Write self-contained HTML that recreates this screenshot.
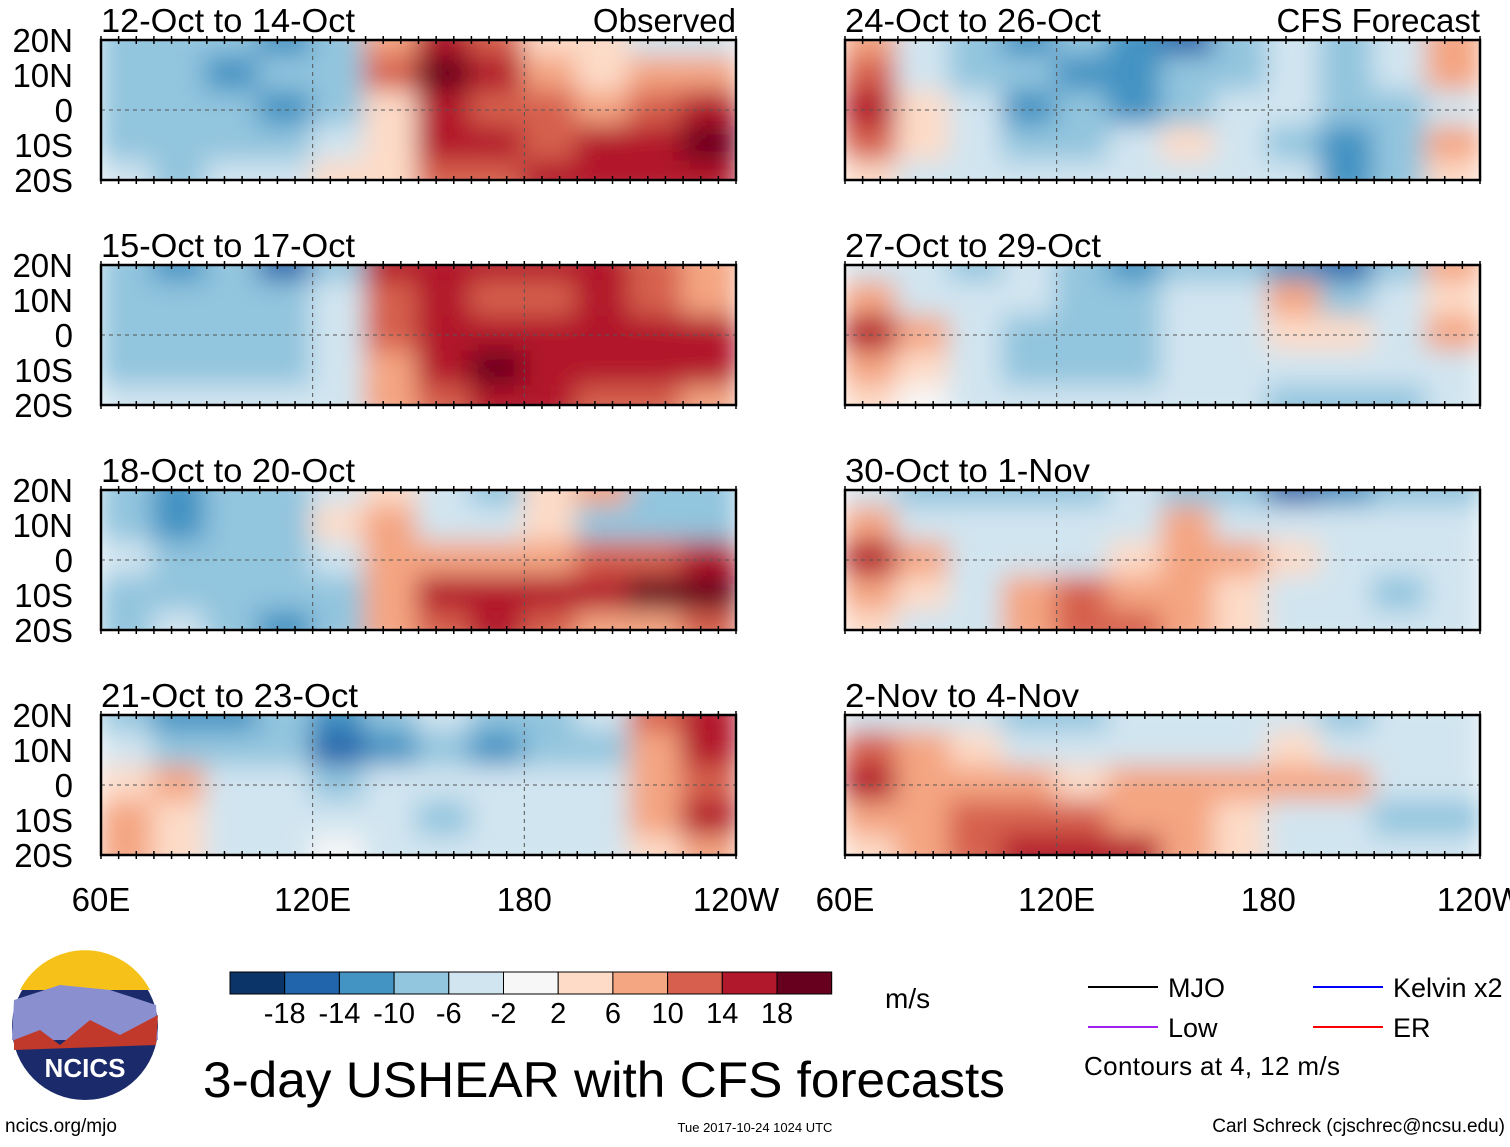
<!DOCTYPE html>
<html><head><meta charset="utf-8"><style>
body{margin:0;background:#fff;width:1510px;height:1142px;overflow:hidden;font-family:"Liberation Sans",sans-serif}
svg text{font-family:"Liberation Sans",sans-serif}
</style></head><body>
<svg id="fig" width="1510" height="1142" xmlns="http://www.w3.org/2000/svg">
<defs><filter id="bl" x="-10%" y="-30%" width="120%" height="160%"><feGaussianBlur stdDeviation="13"/></filter></defs>
</svg>
<script>
const lats=["20N","10N","0","10S","20S"];
const lonLabels=["60E","120E","180","120W"];
const titles=["12-Oct to 14-Oct","15-Oct to 17-Oct","18-Oct to 20-Oct","21-Oct to 23-Oct","24-Oct to 26-Oct","27-Oct to 29-Oct","30-Oct to 1-Nov","2-Nov to 4-Nov"];
const levels=[-18,-14,-10,-6,-2,2,6,10,14,18];
const colors=["#0b3468","#2166ac","#4393c3","#92c5de","#d1e5f0","#f7f7f7","#fddbc7","#f4a582","#d6604d","#b2182b","#67001f"];
const p1=[[-8,-7,-9,-11,-9,8,16,12,4,2,-4,-4],[-7,-9,-11,-9,-7,12,19,16,8,4,6,8],[-9,-7,-9,-11,-7,4,16,12,10,8,12,17],[-7,-9,-7,-8,-4,4,17,16,12,15,15,19],[-4,-7,-4,-4,2,2,12,12,14,15,15,15]];
const p2=[[-8,-12,-10,-15,-8,15,17,15,14,15,12,8],[-8,-10,-10,-10,-6,12,16,12,12,14,12,8],[-7,-8,-8,-8,-4,10,16,16,14,15,17,17],[-8,-7,-8,-10,-6,8,17,19,17,17,15,15],[-4,-6,-6,-4,-4,6,12,14,14,12,10,8]];
const p3=[[-8,-12,-10,-8,-6,3,-6,-8,3,6,-8,-10],[-8,-14,-10,-8,3,6,-4,-6,3,-8,-10,-8],[-6,-10,-8,-8,-4,6,8,8,6,10,12,16],[-10,-8,-8,-10,-8,8,14,16,17,17,19,19],[-8,-6,-10,-12,-8,8,12,15,10,6,8,12]];
const p4=[[-8,-14,-12,-10,-14,-8,-6,-10,-8,-6,10,16],[-6,-10,-8,-10,-16,-12,-10,-12,-10,-8,8,16],[3,6,-4,-6,-8,-4,-6,-6,-4,-6,6,12],[6,3,-4,-6,-4,-6,-8,-6,-4,-6,6,14],[6,3,-3,-4,0,-4,-6,-4,-4,-6,3,8]];
const p5=[[6,-6,-8,-12,-10,-12,-16,-8,-6,-8,-6,8],[12,-4,-8,-10,-12,-14,-10,-8,-6,-8,-6,6],[16,3,-6,-12,-10,-14,-8,-4,-6,-8,-10,-4],[12,3,-6,-8,-10,-6,3,-4,-8,-14,-10,6],[3,-4,-6,-6,-6,-4,-4,-4,-6,-12,-10,3]];
const p6=[[-4,-6,-8,-6,-10,-14,-10,-8,-12,-17,-10,6],[8,-4,-4,-6,-8,-8,-6,-4,6,-8,-4,3],[17,6,-4,-8,-10,-8,-6,-4,3,3,-4,6],[8,3,-4,-8,-8,-8,-6,-4,-4,-6,-6,-4],[3,0,-4,-6,-6,-4,-4,-4,-8,-8,-8,-6]];
const p7=[[-6,-8,-8,-10,-8,-6,-8,-8,-16,-12,-8,-10],[8,-4,-6,-6,-6,-4,6,-4,-4,-6,-6,-4],[17,6,-4,-6,-6,3,6,6,3,-4,-6,-4],[8,3,-4,6,10,8,6,3,-4,-6,-8,-6],[3,-4,-4,8,12,10,6,3,-4,-4,-6,-4]];
const p8=[[-6,-6,-4,-8,-8,-6,-6,-6,-6,-8,-6,-4],[10,6,3,-4,-6,-4,-4,-4,3,-6,-4,-4],[14,8,6,6,3,6,6,8,8,6,-4,-6],[8,8,12,12,10,8,6,3,-4,-6,-8,-10],[3,6,10,16,14,16,8,3,-4,-4,-6,-6]];
const panels=[p1,p2,p3,p4,p5,p6,p7,p8];
const NS="http://www.w3.org/2000/svg";
const svg=document.getElementById('fig');
function mk(t,a,parent){const e=document.createElementNS(NS,t);for(const k in a)e.setAttribute(k,a[k]);(parent||svg).appendChild(e);return e;}
function col(v){let i=0;while(i<levels.length&&v>=levels[i])i++;return colors[i];}
const W=635,H=140;
panels.forEach((d,pi)=>{
  const x0=pi<4?101:845, y0=40+(pi%4)*225;
  const g=mk('g',{});
  
  
  const cp=mk('clipPath',{id:'c'+pi},g);mk('rect',{x:x0,y:y0,width:W,height:H},cp);
  const hg=mk('g',{'clip-path':'url(#c'+pi+')'},g);
  const fg=mk('g',{filter:'url(#bl)'},hg);
  const nr=d.length,nc=d[0].length,cw=W/nc,ch=H/(nr-1);
  d.forEach((row,r)=>row.forEach((v,c)=>{
    const rc=mk('rect',{x:x0+c*cw-2,y:y0+(r-0.5)*ch-2,width:cw+4,height:ch+4,fill:col(v)},fg);
    
    
  }));
  mk('line',{x1:x0,x2:x0+W,y1:y0+H/2,y2:y0+H/2,stroke:'#555','stroke-dasharray':'4,4','stroke-width':1},g);
  mk('line',{x1:x0+W*2/3,x2:x0+W*2/3,y1:y0,y2:y0+H,stroke:'#555','stroke-dasharray':'4,4','stroke-width':1},g);
  mk('line',{x1:x0+W/3,x2:x0+W/3,y1:y0,y2:y0+H,stroke:'#555','stroke-dasharray':'4,4','stroke-width':1},g);
  mk('rect',{x:x0,y:y0,width:W,height:H,fill:'none',stroke:'#000','stroke-width':2.5},g);
  for(let i=0;i<=36;i++){const tx=x0+i*W/36;mk('line',{x1:tx,x2:tx,y1:y0-4,y2:y0+4,stroke:'#000','stroke-width':1.5},g);mk('line',{x1:tx,x2:tx,y1:y0+H-4,y2:y0+H+4,stroke:'#000','stroke-width':1.5},g);}
  const tw=[254,254,254,257,256,256,245,234][pi];
  const t=mk('text',{x:x0,y:y0-8,'font-size':33,textLength:tw,lengthAdjust:'spacingAndGlyphs'},g);t.textContent=titles[pi];
  
  if(pi==0||pi==4){const tt=mk('text',{x:x0+W,y:y0-8,'font-size':33,'text-anchor':'end'},g);tt.textContent=pi==0?'Observed':'CFS Forecast';}
  if(pi<4){lats.forEach((l,i)=>{const lt=mk('text',{x:73,y:y0+i*H/4+12,'font-size':33,'text-anchor':'end'},g);lt.textContent=l;});}
  if(pi%4==3){lonLabels.forEach((l,i)=>{const lt=mk('text',{x:x0+i*W/3,y:911,'font-size':33,'text-anchor':'middle'},g);lt.textContent=l;});}
});
const cb=mk('g',{});
colors.forEach((c,i)=>mk('rect',{x:230+i*54.7,y:972,width:54.7,height:22,fill:c,stroke:'#000','stroke-width':1},cb));
levels.forEach((l,i)=>{const t=mk('text',{x:230+(i+1)*54.7,y:1023,'font-size':29,'text-anchor':'middle'},cb);t.textContent=l;});
const u=mk('text',{x:885,y:1008,'font-size':28},cb);u.textContent='m/s';
const lg=mk('g',{});
[['MJO','#000',1088,987],['Low','#a020f0',1088,1027],['Kelvin x2','#0000ff',1313,987],['ER','#ff0000',1313,1027]].forEach(a=>{
 mk('line',{x1:a[2],x2:a[2]+70,y1:a[3],y2:a[3],stroke:a[1],'stroke-width':2},lg);
 const t=mk('text',{x:a[2]+80,y:a[3]+10,'font-size':27},lg);t.textContent=a[0];});
const ct=mk('text',{x:1084,y:1075,'font-size':26,textLength:256},lg);ct.textContent='Contours at 4, 12 m/s';
const lo=mk('g',{});
mk('circle',{cx:85,cy:1027,r:73,fill:'#1b2a6b'},lo);
mk('path',{d:'M20 990 A73 73 0 0 1 150 990 Z',fill:'#f6c21a'},lo);
mk('path',{d:'M14 1000 L60 985 L110 990 L156 1005 L158 1040 L12 1040 Z',fill:'#8a8fd0'},lo);
mk('path',{d:'M14 1040 L40 1030 L60 1045 L90 1020 L120 1035 L158 1015 L156 1045 L14 1050 Z',fill:'#c0392b'},lo);
const lt=mk('text',{x:85,y:1077,'font-size':26,'font-weight':'bold',fill:'#fff','text-anchor':'middle'},lo);lt.textContent='NCICS';
const tt=mk('text',{x:203,y:1097,'font-size':50,textLength:802,lengthAdjust:'spacingAndGlyphs'},svg);tt.textContent='3-day USHEAR with CFS forecasts';

const f1=mk('text',{x:5,y:1132,'font-size':19});f1.textContent='ncics.org/mjo';

const f2=mk('text',{x:755,y:1132,'font-size':13,'text-anchor':'middle'});f2.textContent='Tue 2017-10-24 1024 UTC';

const f3=mk('text',{x:1505,y:1132,'font-size':19,'text-anchor':'end'});f3.textContent='Carl Schreck (cjschrec@ncsu.edu)';

</script>
</body></html>
